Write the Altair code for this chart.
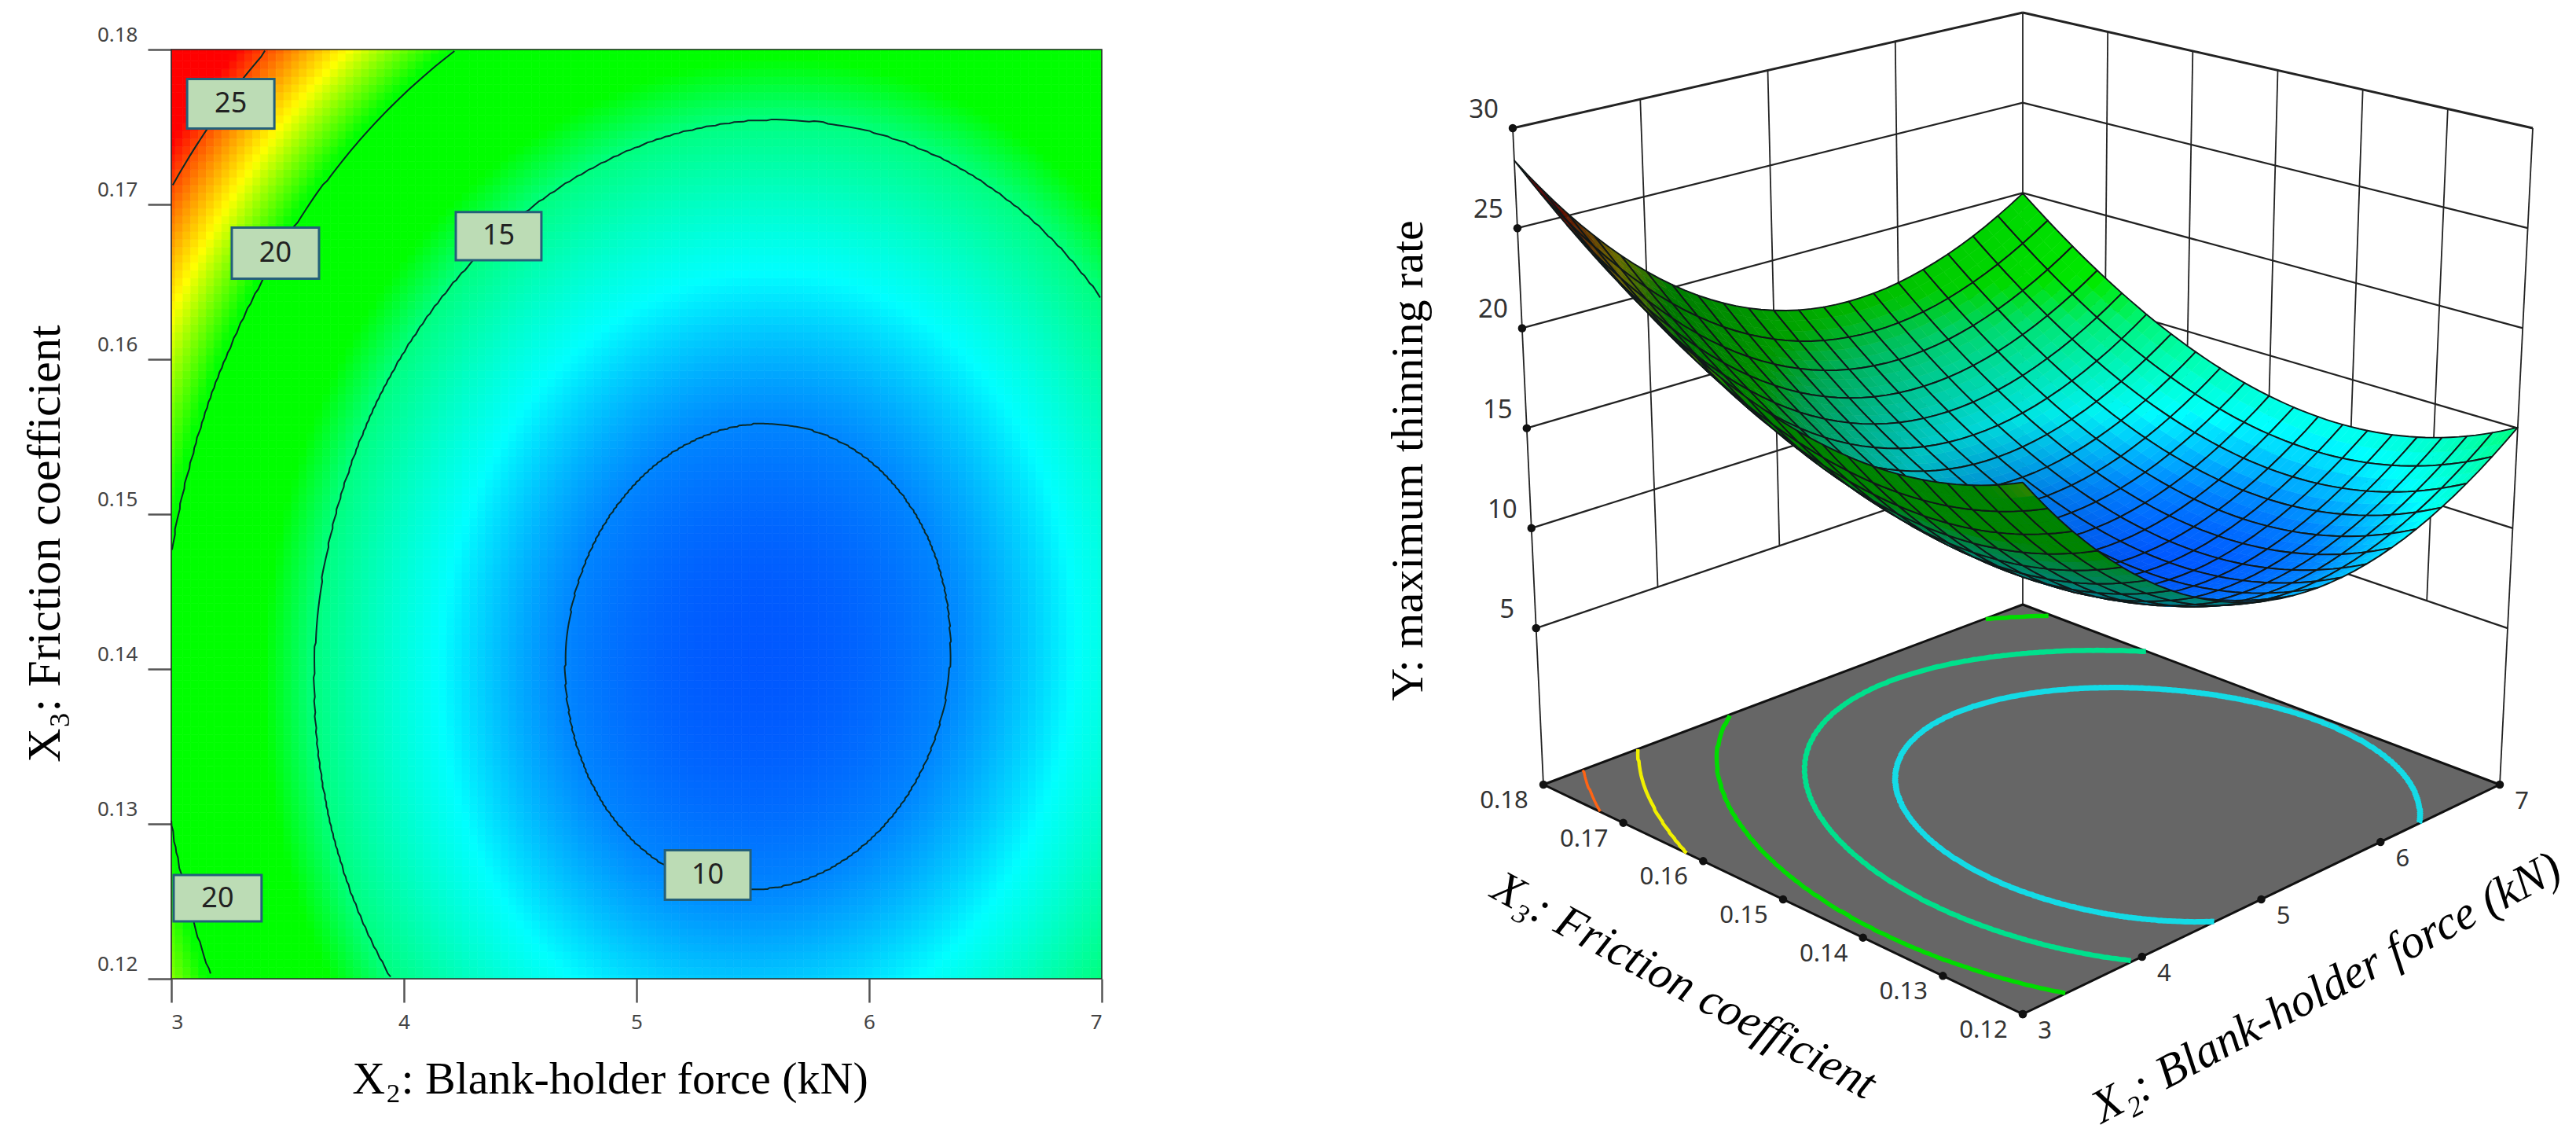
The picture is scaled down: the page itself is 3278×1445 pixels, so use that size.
import numpy as np
import pandas as pd
import altair as alt

alt.data_transformers.disable_max_rows()

rise_x2 = [10.50,10.072,9.652,9.241,8.838,8.444,8.058,7.681,7.312,6.952,6.600,6.257,5.922,5.596,5.278,4.969,4.668,4.376,4.092,3.817,
 3.550,3.292,3.042,2.801,2.568,2.344,2.128,1.921,1.722,1.532,1.350,1.177,1.012,.856,.708,.569,.438,.316,.202,.097,
 0,-.088,-.168,-.239,-.302,-.356,-.402,-.439,-.468,-.488,-.500,-.503,-.498,-.484,-.462,-.431,-.392,-.344,-.288,-.223,
 -.150,-.068,.022,.121,.228,.344,.468,.601,.742,.892,1.050,1.217,1.392,1.576,1.768,1.969,2.178,2.396,2.622,2.857,3.100]
rise_x3 = [1.660,1.456,1.261,1.077,.904,.740,.587,.444,.312,.190,.078,-.024,-.115,-.196,-.267,-.328,-.378,-.418,-.448,-.467,
 -.476,-.475,-.463,-.441,-.409,-.367,-.314,-.251,-.178,-.095,0,.104,.219,.343,.478,.624,.779,.945,1.121,1.308,
 1.504,1.711,1.929,2.156,2.394,2.642,2.901,3.170,3.449,3.738,4.038,4.348,4.668,4.998,5.339,5.690,6.051,6.423,6.805,7.197,7.600]
z_centre = 9.78
z_twist = -0.5

stops_z = [8.77, 10, 12, 15, 16.5, 20.2, 22.6, 26, 29]
stops_c = ["#0055ff", "#0085ff", "#00ffff", "#00ff7f", "#00ff00", "#00ff00", "#ffff00", "#ff0000", "#ff0000"]

contour_levels = [10, 15, 20, 25]
label_text = ["25", "20", "15", "20", "10"]
label_x0 = [3.068, 3.26, 4.223, 3.01, 5.122]
label_x1 = [3.443, 3.635, 4.591, 3.388, 5.49]
label_y0 = [.1749, .1652, .1664, .1237, .1251]
label_y1 = [.1781, .1685, .1695, .1267, .1283]

x2_ticks = [3, 4, 5, 6, 7]
x3_ticks = [.12, .13, .14, .15, .16, .17, .18]
z_ticks = [5, 10, 15, 20, 25, 30]
floor_levels = [12.3, 15.1, 18.6, 22.4, 25.6]
floor_colors = ["#14dbe6", "#00e08c", "#00dc00", "#f0f000", "#ff6414"]
floor_widths = [7, 6.5, 5.5, 4.5, 3.5]
z_floor = -2.82
z_top = 30

SERIF = "Liberation Serif"
SANS = "Noto Sans"

x2_grid = np.linspace(3, 7, len(rise_x2))
x3_grid = np.linspace(.12, .18, len(rise_x3))

def field(x, y):
    return z_centre + np.interp(x, x2_grid, rise_x2) + np.interp(y, x3_grid, rise_x3) + z_twist * ((x - 5) / 2) * ((y - .15) / .03)

Z = np.array([[field(a, b) for b in x3_grid] for a in x2_grid])

X0, Y0 = .26, -.31
ts = np.linspace(0, 3, 1201)

def trace(level):
    parts = []; cur = []
    for th in np.radians(np.arange(0, 360.5, .5)):
        X = X0 + ts * np.cos(th); Y = Y0 + ts * np.sin(th)
        zz = field(5 + 2 * X, .15 + .03 * Y)
        hit = np.argmax(zz >= level) if (zz >= level).any() else None
        if hit is None or abs(X[hit]) > 1 or abs(Y[hit]) > 1:
            if cur:
                parts.append(cur); cur = []
            continue
        cur.append((5 + 2 * X[hit], .15 + .03 * Y[hit]))
    if cur:
        parts.append(cur)
    return parts

sx = alt.Scale(domain=[3, 7], range=[210, 1394], nice=False, zero=False)
sy = alt.Scale(domain=[.12, .18], range=[1237, 55], nice=False, zero=False)
color_scale = alt.Scale(domain=stops_z, range=stops_c, interpolate="rgb")

gx = np.linspace(3, 7, 121)
gy = np.linspace(.12, .18, 121)
hx, hy = (gx[1] - gx[0]) / 2, (gy[1] - gy[0]) / 2
cells = pd.DataFrame([
    dict(a=round(max(3, a - hx), 4), b=round(min(7, a + hx), 4), c=round(max(.12, b - hy), 6), d=round(min(.18, b + hy), 6), z=round(float(field(a, b)), 2))
    for a in gx for b in gy])

heat = alt.Chart(cells).mark_rect(strokeWidth=0.7).encode(
    x=alt.X("a:Q", scale=sx, axis=alt.Axis(
        values=x2_ticks, format="d", tickSize=30, tickWidth=2.5, tickColor="#555555", domain=False, grid=False,
        labelFont=SANS, labelFontSize=26, labelColor="#444444", labelPadding=12, offset=-192,
        title="X₂: Blank-holder force (kN)", titleFont=SERIF, titleFontSize=58, titleFontWeight="normal", titleColor="black",
        titleX=768, titleY=145, titleBaseline="alphabetic", titleAlign="center")),
    x2="b:Q",
    y=alt.Y("c:Q", scale=sy, axis=alt.Axis(
        values=x3_ticks, format=".2f", tickSize=30, tickWidth=2.5, tickColor="#555555", domain=False, grid=False,
        labelFont=SANS, labelFontSize=26, labelColor="#444444", labelPadding=13, labelBaseline="bottom", labelOffset=-6, offset=-210,
        title="X₃: Friction coefficient", titleFont=SERIF, titleFontSize=60, titleFontWeight="normal", titleColor="black",
        titleX=-143, titleY=683, titleAngle=270, titleBaseline="alphabetic", titleAlign="center")),
    y2="d:Q",
    color=alt.Color("z:Q", scale=color_scale, legend=None),
    stroke=alt.Stroke("z:Q", scale=color_scale, legend=None),
)

rows = []
for lev in contour_levels:
    for p, part in enumerate(trace(lev)):
        for k, (a, b) in enumerate(part):
            rows.append(dict(name=f"{lev}-{p}", k=k, a=round(a, 4), b=round(b, 6)))
cont = alt.Chart(pd.DataFrame(rows)).mark_line(color="#0a2a28", strokeWidth=2).encode(
    x=alt.X("a:Q", scale=sx, axis=None), y=alt.Y("b:Q", scale=sy, axis=None), detail="name:N", order="k:Q")

frame = alt.Chart(pd.DataFrame([dict(a=3, b=7, c=.12, d=.18)])).mark_rect(fillOpacity=0, stroke="#2a2a2a", strokeWidth=1.6).encode(
    x=alt.X("a:Q", scale=sx, axis=None), x2="b:Q", y=alt.Y("c:Q", scale=sy, axis=None), y2="d:Q")

labels = pd.DataFrame(dict(t=label_text, a=label_x0, b=label_x1, c=label_y0, d=label_y1))
labels["m"] = (labels.a + labels.b) / 2
labels["n"] = (labels.c + labels.d) / 2
boxes = alt.Chart(labels).mark_rect(fill="#bcdcb5", stroke="#24607a", strokeWidth=3).encode(
    x=alt.X("a:Q", scale=sx, axis=None), x2="b:Q", y=alt.Y("c:Q", scale=sy, axis=None), y2="d:Q")
box_text = alt.Chart(labels).mark_text(font=SANS, fontSize=36, color="#222222", baseline="middle", align="center").encode(
    x=alt.X("m:Q", scale=sx, axis=None), y=alt.Y("n:Q", scale=sy, axis=None), text="t:N")

F = {(0, 0): (2574, 1290), (1, 0): (3181, 998), (0, 1): (1964, 998), (1, 1): (2574, 769)}
T = {(0, 0): (2574, 375), (1, 0): (3223, 163), (0, 1): (1925, 163), (1, 1): (2574, 16)}

def project(x2, x3, z):
    u, v, t = (x2 - 3) / 4, (x3 - .12) / .06, (z - z_floor) / (z_top - z_floor)
    out = []
    for k in (0, 1):
        f = (1-u)*(1-v)*F[0, 0][k] + u*(1-v)*F[1, 0][k] + (1-u)*v*F[0, 1][k] + u*v*F[1, 1][k]
        g = (1-u)*(1-v)*T[0, 0][k] + u*(1-v)*T[1, 0][k] + (1-u)*v*T[0, 1][k] + u*v*T[1, 1][k]
        out.append((1-t)*f + t*g)
    return out

px = alt.Scale(domain=[8, 3270], range=[0, 3262], nice=False, zero=False)
py = alt.Scale(domain=[8, 1437], range=[0, 1429], nice=False, zero=False)

seg = []
def add_seg(name, pts, w):
    for k, p in enumerate(pts):
        q = project(*p)
        seg.append(dict(name=name, k=k, px=q[0], py=q[1], w=w))
for z in z_ticks:
    w = 3 if z == z_top else 2.3
    add_seg(f"L{z}", [(3, .18, z), (7, .18, z)], w)
    add_seg(f"R{z}", [(7, .18, z), (7, .12, z)], w)
for a in x2_ticks[1:-1]:
    add_seg(f"VL{a}", [(a, .18, 5), (a, .18, 30)], 1.8)
for b in x3_ticks[1:-1]:
    add_seg(f"VR{b}", [(7, b, 5), (7, b, 30)], 1.8)
for a, b in [(3, .18), (7, .18), (7, .12)]:
    add_seg(f"P{a}{b}", [(a, b, z_floor), (a, b, 30)], 1.8)
walls = alt.Chart(pd.DataFrame(seg)).mark_line(color="#222222").encode(
    x=alt.X("px:Q", scale=px, axis=None), y=alt.Y("py:Q", scale=py, axis=None), detail="name:N", order="k:Q",
    strokeWidth=alt.StrokeWidth("w:Q", scale=None))

def hex_of(z, shade):
    rgb = []
    for k in (1, 3, 5):
        chan = [int(c[k:k+2], 16) for c in stops_c]
        rgb.append(int(np.clip(np.interp(z, stops_z, chan) * shade, 0, 255)))
    return "#%02x%02x%02x" % tuple(rgb)

def P(i, j):
    q = project(x2_grid[i], x3_grid[j], Z[i, j])
    return [round(float(q[0]), 1), round(float(q[1]), 1)]

def t3(i, j):
    return np.array([i / 80, j / 60, .97 * (Z[i, j] - z_floor) / (z_top - z_floor)])

def area(p):
    s = 0
    for a, b in zip(p, p[1:] + p[:1]):
        s += a[0] * b[1] - b[0] * a[1]
    return s

L = np.array([-.45, .25, .85]); L = L / np.linalg.norm(L)
flat = [project(3, .12, z_floor), project(7, .12, z_floor), project(7, .18, z_floor), project(3, .18, z_floor)]
front_sign = np.sign(area(flat))

rows3d = []; sid_counter = [0]
def shape(coords, fc, sc, sw):
    for k, (a, b) in enumerate(coords):
        rows3d.append((sid_counter[0], k, a, b, fc, sc, sw))
    sid_counter[0] += 1

shape([[round(a, 1), round(b, 1)] for a, b in flat + flat[:1]], "#666666", "#111111", 3)

order = []
for ci in range(20):
    for cj in range(20):
        i0, j0 = 4 * ci, 3 * cj
        zc = Z[i0 + 2, j0 + 1]
        depth = (i0 + 2) / 80 + (j0 + 1.5) / 60 - .6 * (zc - z_floor) / (z_top - z_floor)
        order.append((depth, i0, j0))
order.sort(reverse=True)
for _, i0, j0 in order:
    for i in range(i0, i0 + 4, 2):
        for j in range(j0, j0 + 3):
            q = [P(i, j), P(i + 2, j), P(i + 2, j + 1), P(i, j + 1)]
            n = np.cross(t3(i + 2, j + 1) - t3(i, j), t3(i, j + 1) - t3(i + 2, j))
            n = n / np.linalg.norm(n)
            if n[2] < 0:
                n = -n
            shade = float(np.clip(.22 + .9 * np.dot(n, L), .3, 1))
            if np.sign(area(q)) != front_sign:
                shade = .52
            col = hex_of((Z[i, j] + Z[i + 2, j + 1]) / 2, shade)
            shape(q + q[:1], col, col, .6)
    ring = [P(i, j0) for i in range(i0, i0 + 5, 2)] + [P(i0 + 4, j) for j in range(j0 + 1, j0 + 4)] + \
           [P(i, j0 + 3) for i in range(i0 + 2, i0 - 1, -2)] + [P(i0, j) for j in range(j0 + 2, j0 - 1, -1)]
    shape(ring, "transparent", "#101818", 1.9)

surf_df = pd.DataFrame(rows3d, columns=["s", "k", "px", "py", "fc", "sc", "sw"])
surface = alt.Chart(surf_df).mark_line(strokeJoin="round").encode(
    x=alt.X("px:Q", scale=px, axis=None), y=alt.Y("py:Q", scale=py, axis=None),
    detail="s:N", order="k:Q",
    fill=alt.Fill("fc:N", scale=None), stroke=alt.Stroke("sc:N", scale=None),
    strokeWidth=alt.StrokeWidth("sw:Q", scale=None))

fc = []
for lev, colr, wid in zip(floor_levels, floor_colors, floor_widths):
    for p, part in enumerate(trace(lev)):
        for k, (a, b) in enumerate(part):
            q = project(a, b, z_floor)
            fc.append(dict(name=f"{lev}-{p}", k=k, px=round(q[0], 1), py=round(q[1], 1), c=colr, w=wid))
floor_lines = alt.Chart(pd.DataFrame(fc)).mark_line().encode(
    x=alt.X("px:Q", scale=px, axis=None), y=alt.Y("py:Q", scale=py, axis=None), detail="name:N", order="k:Q",
    stroke=alt.Stroke("c:N", scale=None), strokeWidth=alt.StrokeWidth("w:Q", scale=None))

def pts(rows, fmt):
    out = []
    for a, b, z, lab in rows:
        q = project(a, b, z)
        out.append(dict(px=q[0], py=q[1], t=fmt % lab))
    return pd.DataFrame(out)

z_df = pts([(3, .18, z, z) for z in z_ticks], "%d")
x3_df = pts([(3, b, z_floor, b) for b in x3_ticks], "%.2f")
x2_df = pts([(a, .12, z_floor, a) for a in x2_ticks], "%d")

def dots(df):
    return alt.Chart(df).mark_point(filled=True, color="#111111", size=110, opacity=1).encode(
        x=alt.X("px:Q", scale=px, axis=None), y=alt.Y("py:Q", scale=py, axis=None))

def ticktext(df, dx, dy, size):
    return alt.Chart(df).mark_text(font=SANS, fontSize=size, color="#333333", dx=dx, dy=dy, align="center", baseline="middle").encode(
        x=alt.X("px:Q", scale=px, axis=None), y=alt.Y("py:Q", scale=py, axis=None), text="t:N")

def title3d(anchor, text, ox, oy, angle, style, size):
    q = project(*anchor)
    return alt.Chart(pd.DataFrame([dict(px=q[0] + ox, py=q[1] + oy, t=text)])).mark_text(
        font=SERIF, fontSize=size, color="black", angle=angle, align="center", baseline="middle", fontStyle=style).encode(
        x=alt.X("px:Q", scale=px, axis=None), y=alt.Y("py:Q", scale=py, axis=None), text="t:N")

t_z = title3d((3, .18, 17.5), "Y: maximum thinning rate", -147, 105, 270, "normal", 58)
t_x3 = title3d((3, .15, z_floor), "X₃: Friction coefficient", -126, 110, 28.4, "italic", 59)
t_x2 = title3d((5, .12, z_floor), "X₂: Blank-holder force (kN)", 83, 113, 332, "italic", 60)

chart = alt.layer(
    heat, cont, frame, boxes, box_text,
    walls, surface, floor_lines,
    dots(z_df), dots(x3_df), dots(x2_df),
    ticktext(z_df, -37, -23, 33), ticktext(x3_df, -50, 21, 31), ticktext(x2_df, 28, 22, 31),
    t_z, t_x3, t_x2,
).resolve_scale(x="independent", y="independent", color="independent", stroke="independent",
                fill="independent", strokeWidth="independent").properties(
    width=3262, height=1429, padding=0, background="white",
    autosize=alt.AutoSizeParams(type="none"),
).configure_view(stroke=None)

chart.save("out.html", embed_options={"renderer": "svg", "actions": False})
